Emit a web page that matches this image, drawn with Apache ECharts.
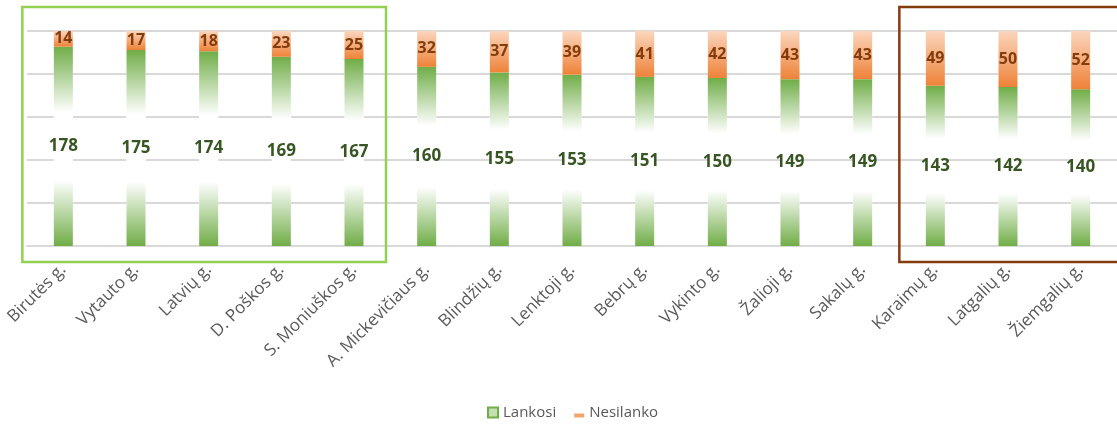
<!DOCTYPE html>
<html>
<head>
<meta charset="utf-8">
<script src="https://cdn.jsdelivr.net/npm/echarts@6/dist/echarts.min.js"></script>
<style>
    html, body { margin: 0; padding: 0; background: #fff; }
    #chart { width: 1117px; height: 425px; }
</style>
</head>
<body>
<div id="chart"></div>
<script>
    'use strict';
    // gatvės
    var categories = ['Birutės g.', 'Vytauto g.', 'Latvių g.', 'D. Poškos g.', 'S. Moniuškos g.',
        'A. Mickevičiaus g.', 'Blindžių g.', 'Lenktoji g.', 'Bebrų g.', 'Vykinto g.',
        'Žalioji g.', 'Sakalų g.', 'Karaimų g.', 'Latgalių g.', 'Žiemgalių g.'];
    var lankosi = [178, 175, 174, 169, 167, 160, 155, 153, 151, 150, 149, 149, 143, 142, 140];
    var nesilanko = [14, 17, 18, 23, 25, 32, 37, 39, 41, 42, 43, 43, 49, 50, 52];
    // pažymėtos grupės (kategorijų indeksai)
    var topGroup = [0, 4];
    var bottomGroup = [12, 14];

    var chart = echarts.init(document.getElementById('chart'));
    var font = '"Open Sans", "Noto Sans", sans-serif';

    var greenFill = new echarts.graphic.LinearGradient(0, 0, 0, 1, [
        {offset: 0, color: '#70ad47'},
        {offset: 0.33, color: '#ffffff'},
        {offset: 0.67, color: '#ffffff'},
        {offset: 1, color: '#70ad47'}
    ]);
    var orangeFill = new echarts.graphic.LinearGradient(0, 0, 0, 1, [
        {offset: 0, color: '#fbd6bd'},
        {offset: 1, color: '#ee8238'}
    ]);

    var option = {
        animation: false,
        textStyle: {fontFamily: font},
        grid: {left: 27, right: 0, top: 31, bottom: 179},
        legend: {
            bottom: 0,
            left: 482,
            itemWidth: 10,
            itemHeight: 10,
            itemGap: 18,
            textStyle: {color: '#595959', fontSize: 15, fontFamily: font},
            data: [
                {name: 'Lankosi', icon: 'rect', itemStyle: {color: '#c5e0b4', borderColor: '#70ad47', borderWidth: 2}},
                {name: 'Nesilanko', icon: 'path://M0,0L0,0M0,6L10,6L10,10L0,10Z', itemStyle: {color: '#f4a46c'}}
            ]
        },
        xAxis: {
            type: 'category',
            data: categories,
            axisLine: {lineStyle: {color: '#d9d9d9', width: 2}},
            axisTick: {show: false},
            axisLabel: {
                rotate: 45,
                margin: 21,
                color: '#595959',
                fontSize: 17,
                fontFamily: font,
                interval: 0
            }
        },
        yAxis: {
            type: 'value',
            min: 0,
            max: 192,
            interval: 38.4,
            axisLabel: {show: false},
            axisLine: {show: false},
            axisTick: {show: false},
            splitLine: {lineStyle: {color: '#d9d9d9', width: 2}}
        },
        series: [
            {
                name: 'Lankosi',
                type: 'bar',
                stack: 'viso',
                barWidth: 19,
                data: lankosi,
                showBackground: true,
                backgroundStyle: {color: '#ffffff'},
                itemStyle: {color: greenFill},
                label: {
                    show: true,
                    position: 'inside',
                    color: '#375623',
                    fontSize: 17,
                    fontWeight: 'bold',
                    fontFamily: font
                }
            },
            {
                name: 'Nesilanko',
                type: 'bar',
                stack: 'viso',
                barWidth: 19,
                data: nesilanko,
                itemStyle: {color: orangeFill},
                label: {
                    show: true,
                    position: 'inside',
                    color: '#843c0c',
                    fontSize: 16,
                    fontWeight: 'bold',
                    fontFamily: font
                }
            }
        ]
    };
    chart.setOption(option);

    // rėmeliai aplink grupes
    function groupBox (range, color, padLeft, padRight) {
        var x0 = chart.convertToPixel({xAxisIndex: 0}, range[0]);
        var x1 = chart.convertToPixel({xAxisIndex: 0}, range[1]);
        return {
            type: 'rect',
            z: 100,
            shape: {x: x0 - padLeft, y: 7, width: x1 - x0 + padLeft + padRight, height: 255},
            style: {fill: 'none', stroke: color, lineWidth: 2.5}
        };
    }
    chart.setOption({
        graphic: [
            groupBox(topGroup, '#92d050', 41, 32),
            groupBox(bottomGroup, '#843c0c', 36, 40)
        ]
    });
</script>
</body>
</html>
